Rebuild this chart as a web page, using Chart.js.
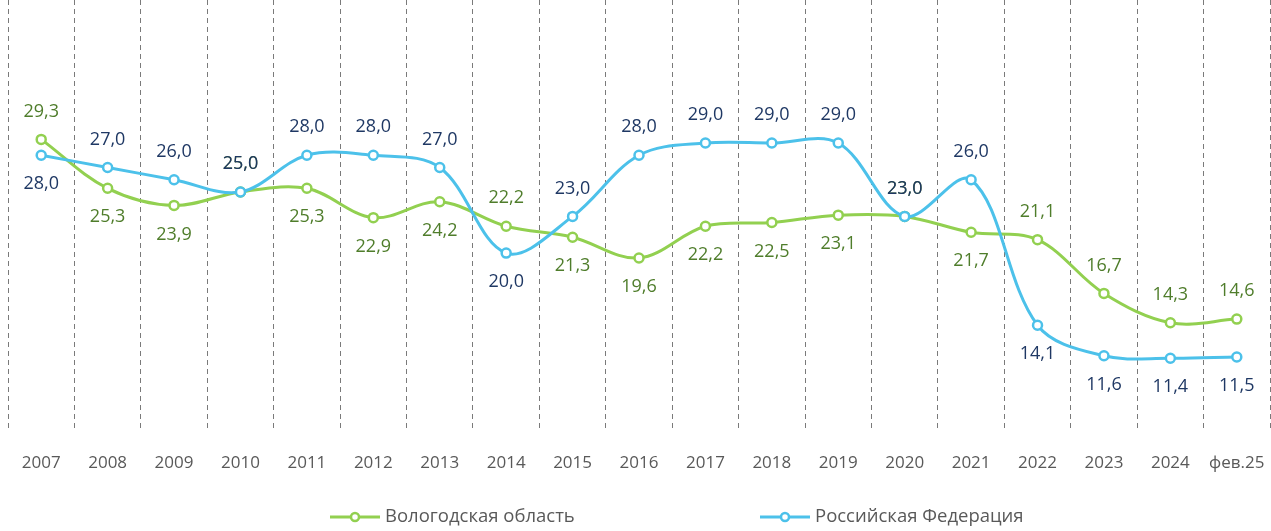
<!DOCTYPE html>
<html>
<head>
<meta charset="utf-8">
<script src="https://cdn.jsdelivr.net/npm/chart.js@4/dist/chart.umd.min.js"></script>
<style>
    html, body { margin: 0; padding: 0; background: #fff; }
    #wrap { width: 1271px; height: 531px; position: relative; }
</style>
</head>
<body>
<div id="wrap"><canvas id="chart"></canvas></div>
<script>
const years = ['2007', '2008', '2009', '2010', '2011', '2012', '2013', '2014', '2015', '2016',
    '2017', '2018', '2019', '2020', '2021', '2022', '2023', '2024', 'фев.25'];
const vologda = [29.3, 25.3, 23.9, 25.0, 25.3, 22.9, 24.2, 22.2, 21.3, 19.6,
    22.2, 22.5, 23.1, 23.0, 21.7, 21.1, 16.7, 14.3, 14.6];
const russia = [28.0, 27.0, 26.0, 25.0, 28.0, 28.0, 27.0, 20.0, 23.0, 28.0,
    29.0, 29.0, 29.0, 23.0, 26.0, 14.1, 11.6, 11.4, 11.5];
// -1 = label above the point, 1 = below
const vologdaSide = [-1, 1, 1, -1, 1, 1, 1, -1, 1, 1, 1, 1, 1, -1, 1, -1, -1, -1, -1];
const russiaSide = [1, -1, -1, -1, -1, -1, -1, 1, -1, -1, -1, -1, -1, -1, -1, 1, 1, 1, 1];

const GREEN = '#92d050';
const BLUE = '#4cc1ea';
const FONT = '"Open Sans", sans-serif';

const valueLabels = {
    id: 'valueLabels',
    afterDatasetsDraw(chart) {
        const ctx = chart.ctx;
        ctx.save();
        ctx.font = '18px ' + FONT;
        ctx.textAlign = 'center';
        ctx.textBaseline = 'middle';
        chart.data.datasets.forEach((ds, di) => {
            const meta = chart.getDatasetMeta(di);
            ctx.fillStyle = ds.labelColor;
            meta.data.forEach((pt, i) => {
                const off = ds.labelSide[i] < 0 ? -28 : 29;
                ctx.fillText(ds.data[i].toFixed(1).replace('.', ','), pt.x, pt.y + off);
            });
        });
        ctx.restore();
    }
};

const lineLegend = {
    id: 'lineLegend',
    afterDraw(chart) {
        const ctx = chart.ctx;
        const y = 517;
        const starts = [330, 760];
        ctx.save();
        ctx.font = '18.5px ' + FONT;
        ctx.textBaseline = 'middle';
        ctx.textAlign = 'left';
        [0, 1].forEach(di => {
            const ds = chart.data.datasets[di];
            const x = starts[di];
            ctx.strokeStyle = ds.borderColor;
            ctx.lineWidth = 3;
            ctx.beginPath();
            ctx.moveTo(x, y);
            ctx.lineTo(x + 50, y);
            ctx.stroke();
            ctx.beginPath();
            ctx.arc(x + 25, y, 4, 0, Math.PI * 2);
            ctx.fillStyle = '#fff';
            ctx.fill();
            ctx.lineWidth = 2.5;
            ctx.stroke();
            ctx.fillStyle = '#595959';
            ctx.fillText(ds.label, x + 55, y);
        });
        ctx.restore();
    }
};

new Chart(document.getElementById('chart'), {
    type: 'line',
    data: {
        labels: years,
        datasets: [{
            label: 'Вологодская область',
            data: vologda,
            borderColor: GREEN,
            backgroundColor: '#fff',
            labelColor: '#4f7d2b',
            labelSide: vologdaSide,
            order: 1
        }, {
            label: 'Российская Федерация',
            data: russia,
            borderColor: BLUE,
            backgroundColor: '#fff',
            labelColor: '#1f3864',
            labelSide: russiaSide,
            order: 0
        }]
    },
    options: {
        responsive: true,
        maintainAspectRatio: false,
        animation: false,
        layout: { autoPadding: false, padding: { left: 8, right: 1, top: 0, bottom: 58 } },
        elements: {
            line: { borderWidth: 3, tension: 0.35 },
            point: { radius: 4.5, borderWidth: 2.5, hoverRadius: 4.5 }
        },
        scales: {
            x: {
                offset: true,
                grid: {
                    offset: true,
                    drawTicks: true,
                    tickLength: 21,
                    tickColor: 'rgba(0,0,0,0)',
                    color: '#7a7a7a',
                    lineWidth: 1
                },
                border: { display: false, dash: [5, 4] },
                ticks: {
                    padding: 0,
                    maxRotation: 0,
                    minRotation: 0,
                    autoSkip: false,
                    color: '#595959',
                    font: { family: FONT, size: 17 }
                }
            },
            y: {
                display: false,
                min: 5.4,
                max: 40.7
            }
        },
        plugins: {
            legend: { display: false },
            tooltip: { enabled: false }
        }
    },
    plugins: [valueLabels, lineLegend]
});
</script>
</body>
</html>
